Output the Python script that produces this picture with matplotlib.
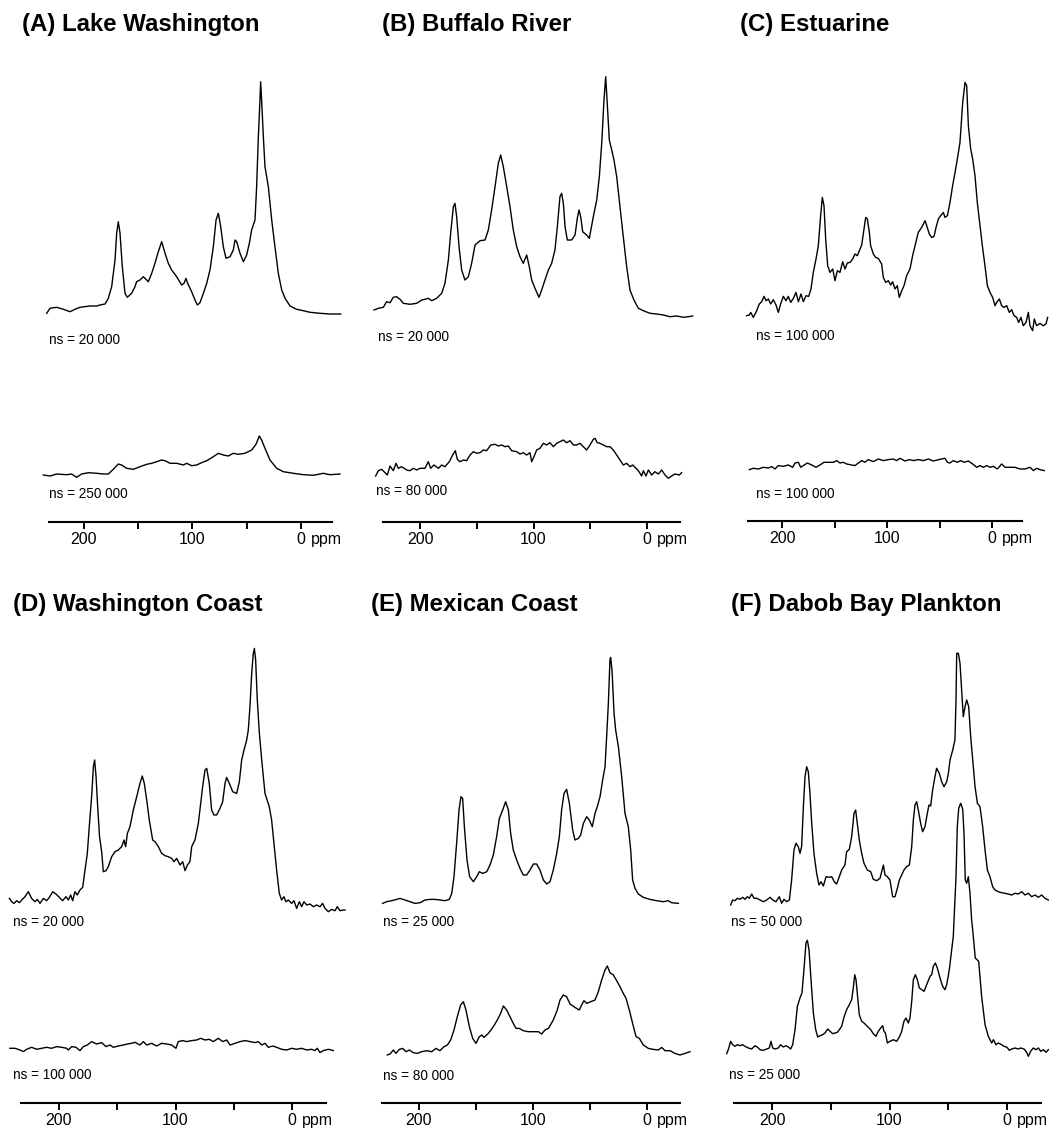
import matplotlib
matplotlib.use("Agg")
import matplotlib.pyplot as plt

plt.rcParams['font.family'] = ['Liberation Sans', 'DejaVu Sans']

W, H = 1057, 1132

# ---------------- data (ppm, intensity) ----------------
A_top_ppm = [234.4, 231.3, 225.2, 219.0, 212.9, 208.3, 203.7, 194.5, 188.3, 185.3, 180.6, 177.6, 174.5, 171.4, 169.9, 168.4, 166.8, 164.7, 162.2, 160.1, 156.1, 153.0, 151.5, 148.4, 145.3, 140.7, 137.6, 134.6, 131.5, 128.4, 125.3, 122.3, 119.2, 114.6, 110.0, 107.8, 106.0, 104.5, 100.8, 97.7, 95.5, 93.1, 90.0, 86.9, 83.9, 80.8, 78.3, 76.2, 74.0, 71.6, 69.1, 65.4, 62.4, 60.8, 59.3, 56.2, 53.1, 50.1, 47.6, 45.5, 42.4, 40.9, 39.3, 37.8, 37.2, 36.3, 34.7, 33.2, 30.1, 27.0, 24.0, 20.9, 17.8, 14.7, 10.1, 4.0, -2.2, -8.3, -17.5, -26.7, -36.6]
A_top_int = [-1.3, 3.7, 4.7, 2.7, 0.3, 2.7, 4.7, 6.0, 6.0, 7.0, 8.0, 13.7, 25.3, 52.0, 78.7, 90.3, 78.7, 45.3, 18.7, 14.7, 18.7, 25.3, 30.3, 32.0, 35.3, 30.3, 38.7, 48.7, 60.3, 70.3, 58.7, 48.7, 42.0, 35.3, 27.0, 28.7, 33.7, 28.7, 20.3, 12.0, 7.0, 9.3, 18.7, 28.7, 42.0, 65.3, 92.0, 98.7, 85.3, 65.3, 53.7, 55.3, 62.0, 72.0, 70.3, 58.7, 50.3, 57.0, 68.7, 82.0, 92.0, 125.3, 175.3, 212.0, 230.3, 212.0, 175.3, 145.3, 125.3, 92.0, 65.3, 38.7, 22.0, 13.7, 6.0, 2.7, 1.3, -0.3, -1.3, -2.0, -2.0]

A_bot_ppm = [237.5, 231.3, 225.2, 216.0, 211.4, 206.8, 202.2, 196.0, 188.3, 182.2, 177.6, 173.0, 168.4, 165.3, 160.7, 154.5, 148.4, 142.2, 137.6, 133.0, 128.4, 125.3, 120.7, 114.6, 108.4, 105.4, 100.8, 96.2, 91.6, 86.9, 80.8, 76.2, 71.6, 67.0, 62.4, 57.8, 51.6, 45.5, 41.5, 38.4, 36.3, 33.2, 28.6, 22.4, 16.3, 7.1, -2.2, -11.4, -20.6, -26.7, -35.9]
A_bot_int = [-1.0, -2.0, 0, -0.7, 0, -3.3, 0, 1.3, 0.7, 0, 0, 4.7, 10, 9, 5.7, 4.7, 7.3, 9.7, 10.7, 12.3, 14, 13.3, 10.7, 10.7, 9, 10.7, 8.3, 9, 11.3, 13.3, 17.3, 20.7, 19, 18, 20.7, 19.7, 20.7, 24, 29.7, 38, 34, 25.7, 14, 5.7, 2.3, 0.7, -0.7, -1.3, 0.7, -0.7, 0]

B_top_ppm = [240.5, 236.7, 232.3, 229.4, 226.4, 223.5, 220.6, 217.6, 214.7, 208.8, 202.9, 198.5, 195.6, 192.7, 189.7, 185.3, 180.9, 178.0, 175.0, 173.0, 170.6, 169.2, 167.7, 165.6, 163.3, 160.4, 157.4, 154.5, 151.5, 147.1, 142.7, 139.8, 136.9, 133.9, 131.0, 128.9, 126.6, 123.6, 120.7, 117.8, 114.8, 111.9, 109.0, 106.0, 103.7, 101.6, 98.7, 95.2, 92.8, 89.9, 86.9, 84.0, 81.1, 79.0, 76.7, 75.2, 73.7, 72.2, 70.2, 66.4, 63.4, 61.4, 59.9, 58.4, 56.7, 53.2, 50.8, 47.3, 44.3, 42.0, 39.9, 37.9, 36.4, 35.2, 33.2, 31.1, 29.1, 26.7, 23.8, 20.9, 17.9, 15.0, 11.5, 7.6, 3.2, -2.6, -8.5, -14.4, -20.3, -26.1, -32.0, -36.4, -40.2]
B_top_int = [0, 1.7, 2.7, 8.3, 7.3, 12.7, 13.3, 10.7, 6.7, 5.7, 6.7, 10, 10.7, 11.7, 9.3, 11.7, 16.7, 26.7, 50, 76.7, 103.3, 106.7, 93.3, 63.3, 40, 30, 33.3, 46.7, 65, 69.3, 70, 80, 100, 123.3, 146.7, 155, 143.3, 123.3, 103.3, 80, 63.3, 53.3, 46.7, 55, 43.3, 30, 21.7, 12.7, 20, 30, 40, 46.7, 60, 83.3, 113.3, 116.7, 106.7, 83.3, 70, 70, 75, 91.7, 100, 93.3, 78.3, 75, 71.7, 93.3, 110, 133.3, 166.7, 210, 233.3, 210, 170, 160, 150, 133.3, 103.3, 73.3, 43.3, 20, 10, 1.7, -0.7, -3.3, -4, -5, -6.7, -6, -7.3, -6.7, -6]

B_bot_ppm = [239.1, 236.7, 233.8, 230.8, 228.8, 226.4, 223.5, 221.1, 219.1, 216.2, 211.7, 208.8, 205.9, 202.9, 200.0, 195.6, 192.7, 190.6, 187.7, 183.8, 180.9, 178.0, 174.2, 171.2, 168.9, 167.1, 164.8, 161.8, 158.9, 155.9, 153.0, 150.1, 147.1, 144.2, 141.3, 137.7, 133.9, 131.0, 128.0, 125.1, 122.2, 119.2, 114.8, 111.9, 109.0, 106.0, 103.1, 101.6, 99.6, 97.2, 94.3, 91.3, 88.4, 85.5, 82.5, 79.6, 76.7, 73.7, 70.8, 67.8, 64.9, 62.0, 59.0, 56.1, 53.2, 50.2, 47.3, 45.8, 43.8, 41.4, 38.5, 35.5, 32.6, 29.7, 26.7, 23.8, 20.9, 17.9, 15.0, 12.6, 9.7, 7.6, 4.7, 3.2, 0.9, -1.2, -4.1, -7.0, -10.0, -12.9, -15.9, -18.8, -21.7, -24.7, -28.5, -30.5]
B_bot_int = [-6, -0.7, 0.7, -2.7, -5, 4, -0.7, 6.7, 1.7, 3.3, 0, -0.7, 1.7, 0, 1.7, 1.7, 8.3, 1.7, 5, 1.7, 5, 3.3, 8.3, 15, 19.3, 10.7, 8.3, 10, 9.3, 15, 18.3, 16.7, 17.3, 20, 19.3, 25, 25.7, 24, 25, 23.3, 24, 19.3, 18.3, 16, 17.3, 15, 17.3, 8.3, 13.3, 20, 21.7, 26.7, 25, 27.3, 23.3, 26.7, 28.3, 30, 27.3, 29.3, 25, 25, 26.7, 23.3, 20, 25, 30.7, 31.7, 27.3, 26.7, 25, 23.3, 23.3, 20, 15, 10, 5, 6.7, 3.3, 5, 1.7, -0.7, -6, -0.7, -6, 0, -5, -1.7, -4, 0, -5, -8.3, -6, -4, -5, -2.7]

C_top_ppm = [233.7, 231.1, 229.8, 227.3, 224.1, 221.6, 219.4, 217.1, 215.2, 213.0, 210.8, 208.3, 205.7, 203.5, 201.3, 198.7, 196.2, 194.0, 191.7, 189.2, 186.7, 184.4, 181.9, 179.7, 177.1, 174.6, 172.4, 170.2, 167.6, 165.4, 163.2, 161.6, 160.0, 158.4, 156.5, 154.3, 151.7, 149.5, 147.3, 144.8, 142.2, 140.0, 137.8, 135.2, 132.7, 130.5, 128.3, 125.7, 124.1, 121.9, 120.3, 118.7, 116.8, 115.6, 113.0, 110.8, 108.3, 105.1, 103.5, 101.3, 98.7, 96.5, 94.6, 92.4, 90.2, 88.3, 86.0, 83.8, 81.3, 78.1, 75.6, 73.3, 70.2, 67.0, 63.8, 62.2, 59.7, 57.5, 55.2, 53.3, 51.1, 48.9, 46.3, 44.8, 42.5, 40.0, 37.5, 35.2, 33.0, 30.5, 27.9, 25.7, 24.1, 22.5, 20.3, 18.4, 16.2, 14.0, 11.4, 9.2, 6.7, 4.4, 1.9, -0.6, -2.9, -4.4, -7.0, -9.2, -11.4, -14.0, -16.5, -18.7, -21.0, -23.5, -25.4, -27.6, -29.8, -32.4, -34.6, -36.2, -38.7, -40.3, -42.5, -45.7, -48.9, -51.4, -53.0]
C_top_int = [0, 0.7, 3.3, -1.7, 5, 11.7, 14, 19.3, 15, 16.7, 11.7, 16, 10.7, 3.3, 11.7, 19.3, 15, 19.3, 13.3, 17.3, 23.3, 14, 21.7, 14, 20, 19.3, 26.7, 43.3, 56.7, 70, 100, 118.3, 110, 76.7, 50, 43.3, 46.7, 35, 45, 43.3, 54, 46.7, 52.7, 53.3, 56.7, 61.7, 60, 66.7, 70.7, 86.7, 98.3, 96.7, 83.3, 70, 61.7, 58.3, 57.3, 51.7, 38.3, 33.3, 35, 30.7, 34, 26.7, 30, 18.3, 25, 30, 40, 46.7, 60, 70, 83.3, 88.3, 95, 90, 81.7, 78.3, 79.3, 88.3, 96.7, 100, 103.3, 98.3, 100, 113.3, 130, 143.3, 156.7, 173.3, 213.3, 233.3, 230, 190, 166.7, 156.7, 140, 113.3, 90, 70, 50, 30, 23.3, 18.3, 10, 13.3, 16.7, 10, 8.3, 10, 3.3, 6, 0, -1.7, -6.7, -1.7, -10, -6.7, 3.3, -10, -15, -3.3, -10, -7.7, -10, -8.3, -1.7]

C_bot_ppm = [231.1, 227.3, 222.5, 217.8, 213.0, 209.8, 206.7, 203.5, 198.7, 194.0, 189.8, 187.6, 184.4, 182.2, 179.7, 175.9, 171.7, 167.6, 163.8, 160.0, 155.9, 151.1, 147.9, 144.8, 141.6, 138.4, 133.7, 130.5, 127.3, 124.1, 121.0, 117.8, 113.0, 108.3, 103.5, 98.7, 94.0, 90.8, 87.6, 82.9, 78.7, 74.9, 70.2, 65.4, 60.6, 55.9, 52.1, 48.0, 44.8, 42.5, 40.0, 36.8, 33.0, 29.8, 26.7, 22.5, 18.4, 14.6, 11.4, 8.3, 5.1, 1.9, -1.3, -5.1, -9.2, -12.4, -17.1, -21.9, -26.7, -31.4, -36.2, -39.4, -42.5, -45.7, -49.8]
C_bot_int = [-2.3, -1, -1.7, 0, -0.7, 0.7, -1.7, 1.7, 1, 2.3, 0, 4.3, 5, 0, 1.7, 4.3, 2.3, 0, 2.3, 5, 5, 5, 6.7, 4.3, 5, 3.3, 2.3, 1.7, 4.3, 6.7, 5, 7.7, 5.7, 8.3, 6.7, 7.7, 8.3, 6.7, 9, 6.3, 7.7, 6.7, 7.7, 6.7, 8.3, 6.3, 7.3, 8.3, 9, 5, 4.3, 6.7, 5, 6.7, 5, 6.3, 3.3, 0, 1.7, 0, 1.7, 0, 1, -1.7, 3.3, 0, 0, 0, -1.7, -1.7, 0, -3.3, -1, -2.3, -3.3]

D_top_ppm = [242.6, 240.6, 238.6, 236.3, 234.0, 232.0, 229.2, 226.3, 223.5, 220.6, 218.6, 216.3, 213.4, 210.6, 208.3, 205.4, 202.6, 199.7, 196.9, 194.0, 192.0, 190.0, 188.3, 186.3, 184.3, 182.0, 179.7, 177.7, 175.7, 173.8, 171.8, 170.5, 169.4, 168.2, 166.8, 165.2, 163.2, 162.0, 159.7, 157.7, 154.8, 151.9, 149.1, 146.2, 144.2, 142.8, 141.3, 139.1, 136.2, 133.3, 130.5, 128.5, 126.8, 124.7, 122.5, 119.6, 117.6, 114.7, 111.9, 109.0, 106.2, 103.3, 101.3, 99.0, 96.1, 93.8, 91.8, 89.8, 87.6, 86.1, 83.3, 80.4, 78.4, 76.7, 74.7, 73.2, 71.0, 69.0, 67.0, 64.7, 61.8, 59.5, 57.5, 56.1, 53.8, 50.9, 47.5, 45.2, 43.2, 41.2, 38.9, 37.5, 36.1, 34.6, 33.2, 32.3, 31.2, 29.8, 28.0, 26.0, 23.2, 19.5, 17.5, 15.5, 13.2, 10.9, 8.9, 6.9, 5.2, 3.1, 0.3, -1.7, -4.0, -6.3, -8.3, -10.3, -12.6, -15.5, -18.3, -21.2, -24.0, -26.3, -28.3, -31.2, -34.0, -36.9, -38.9, -41.2, -44.1, -45.5]
D_top_int = [3.3, 0, -1.7, 1, -1, 1.7, 5, 10, 3.3, 0, 2.3, -1.7, 3.3, 1, 4.3, 10, 7.7, 4.3, 1, 5, 1.7, 6.7, 1, 10, 6.7, 11.7, 14.3, 31.7, 48.3, 78.3, 108.3, 135, 141.7, 125, 95, 65, 48.3, 30, 31, 35, 45, 50, 51.7, 55, 61.7, 55, 68.3, 75, 91.7, 105, 118.3, 125.7, 118.3, 101.7, 81.7, 61.7, 60, 55, 48.3, 46, 45, 43.3, 40, 43.3, 36.7, 40, 31, 36.7, 40, 55, 61.7, 78.3, 98.3, 115, 131.7, 133.3, 118.3, 91.7, 86.7, 86.7, 93.3, 100, 118.3, 124.3, 118.3, 110, 108.3, 120, 141.7, 151.7, 161.7, 171.7, 195, 228.3, 248.3, 253.3, 241.7, 201.7, 168.3, 141.7, 108.3, 95, 81.7, 58.3, 31.7, 8.3, 1.7, 5, 0, 1.7, -1.7, 1, -6.7, 0, -5, 0, -3.3, -2.3, -5, -3.3, -5, -1.7, -6.7, -10, -7.7, -9, -5, -9, -8.3, -8.3]

D_bot_ppm = [242.1, 237.8, 233.5, 230.6, 227.8, 223.5, 219.2, 214.9, 210.6, 206.3, 202.0, 197.7, 193.4, 192.0, 189.1, 185.4, 182.0, 179.1, 175.7, 172.0, 167.7, 163.4, 159.7, 156.2, 153.4, 149.1, 144.8, 141.3, 137.6, 134.8, 130.5, 127.6, 124.7, 120.5, 116.2, 111.9, 107.6, 103.3, 99.6, 97.6, 93.8, 90.4, 86.1, 81.8, 78.4, 74.7, 71.0, 67.5, 63.2, 59.5, 56.1, 53.2, 48.9, 44.6, 40.3, 36.1, 31.8, 28.9, 26.0, 23.2, 20.3, 16.6, 13.2, 8.9, 4.6, 0.3, -4.0, -8.3, -12.6, -16.9, -19.7, -21.7, -24.0, -26.9, -31.2, -35.5]
D_bot_int = [0, 0, -1.7, -3.3, -1, 1, -1, 0, 1, 0, 1.7, 1, 0, -1.7, 1.7, 1, -2.3, 1.7, 3.3, 6.7, 4.3, 5.7, 1.7, 3.3, 1, 2.3, 3.3, 4.3, 5, 6, 3.3, 6.7, 3.3, 5, 2.3, 5, 4.3, 3.3, 0, 6.7, 7.7, 6.7, 7.7, 8.3, 10, 8.3, 9, 6.7, 10, 6.7, 8.3, 3.3, 5, 6.7, 7.7, 6.7, 5.7, 6.7, 3.3, 5, 1, 2.3, 1, -1, -1.7, 0, -1, 0, -1.7, -1, -2.3, 0, -4.3, -2.3, -1, -2.3]

E_top_ppm = [231.9, 228.4, 224.0, 219.6, 216.7, 212.3, 207.9, 203.5, 199.1, 194.7, 190.4, 186.0, 181.6, 177.2, 173.4, 171.3, 169.3, 167.0, 164.9, 163.2, 161.7, 160.2, 157.9, 155.6, 152.3, 149.4, 147.1, 144.2, 140.6, 137.7, 134.8, 131.9, 129.5, 126.6, 124.0, 121.6, 119.6, 117.3, 114.3, 111.4, 108.5, 105.6, 102.6, 99.7, 96.8, 93.9, 90.9, 88.0, 85.1, 82.2, 79.2, 76.9, 74.9, 72.8, 70.5, 68.1, 65.2, 63.2, 60.2, 58.2, 55.8, 52.9, 50.6, 48.0, 45.6, 43.6, 41.2, 38.9, 36.8, 35.4, 33.9, 32.5, 31.9, 30.7, 28.9, 27.5, 25.1, 22.2, 19.3, 16.4, 14.3, 12.6, 10.5, 7.6, 3.2, -2.6, -8.5, -14.3, -18.7, -21.6, -27.5]
E_top_int = [-1.7, 0, 1, 2.3, 3.3, 1.7, 0, -1.7, -1, 1.7, 2.3, 2.3, 1.7, 1, 2.3, 8.3, 25, 58.3, 91.7, 105, 103.3, 75, 41.7, 25, 20, 25, 30, 28.3, 30, 36.7, 46.7, 65, 83.3, 91.7, 100, 91.7, 68.3, 51.7, 41.7, 33.3, 26.7, 26.7, 31.7, 37.7, 37.7, 31.7, 21.7, 17.7, 20, 31.7, 48.3, 65, 91.7, 108.3, 112.3, 98.3, 71.7, 61.7, 63.3, 66.7, 78.3, 85, 81.7, 75, 88.3, 95, 105, 121.7, 135, 165, 198.3, 241.7, 244.3, 231.7, 188.3, 171.7, 155, 125, 88.3, 75, 51.7, 21.7, 13.3, 7.7, 4.3, 2.3, 1, 0, 1, -1, -1.7]

E_bot_ppm = [227.8, 225.4, 222.5, 220.2, 217.3, 214.3, 211.4, 208.5, 205.0, 201.5, 197.7, 193.3, 188.9, 185.1, 181.6, 178.1, 175.1, 172.2, 169.3, 166.4, 163.5, 161.1, 158.8, 155.8, 152.9, 150.0, 147.1, 145.0, 143.0, 139.2, 134.8, 131.3, 128.4, 126.0, 123.1, 120.2, 117.3, 114.9, 112.0, 108.5, 104.1, 99.7, 95.3, 92.4, 89.5, 86.5, 82.2, 78.7, 76.3, 73.4, 70.5, 67.5, 63.2, 59.4, 57.3, 55.3, 52.9, 49.4, 45.6, 42.7, 39.8, 36.8, 34.8, 32.5, 29.5, 26.6, 23.7, 20.8, 18.4, 15.5, 12.6, 9.6, 6.7, 3.2, -1.2, -5.6, -9.9, -12.9, -15.8, -20.2, -24.6, -28.9, -33.3, -37.7]
E_bot_int = [-3.3, -2.3, 1.7, -1.7, 2.3, 3.3, 0, 1.7, -1, -1.7, 0, 1, 0, 3.3, 1, 5, 6.7, 11.7, 21.7, 35, 46.7, 50, 41.7, 25, 13.3, 8.3, 15, 16.7, 14.3, 18.3, 25, 31.7, 38.3, 45.7, 41.7, 35, 28.3, 23.3, 23.3, 21, 20, 20, 20, 17.7, 21.7, 23.3, 31.7, 41.7, 51.7, 56.7, 55, 47.7, 44.3, 41.7, 46.7, 51, 48.3, 50, 51.7, 60, 71.7, 81.7, 85.7, 79, 76.7, 71, 65, 58.3, 53.3, 41.7, 28.3, 15, 13.3, 6.7, 3.3, 2.3, 1.7, 4.3, 1, 1, -1.7, -3.3, -1.7, 0]

F_top_ppm = [235.2, 233.5, 231.5, 229.5, 227.2, 225.0, 223.0, 221.0, 219.3, 217.3, 215.3, 213.0, 210.2, 207.4, 204.5, 201.7, 199.4, 196.6, 193.8, 191.8, 189.8, 187.5, 185.2, 183.3, 181.3, 179.6, 177.6, 176.2, 174.8, 173.3, 171.9, 170.5, 169.1, 167.7, 166.2, 164.3, 162.0, 160.0, 158.3, 156.3, 154.0, 151.2, 149.2, 147.0, 145.0, 142.7, 140.7, 137.9, 136.5, 134.2, 132.2, 130.2, 128.8, 127.4, 125.7, 123.7, 121.7, 118.9, 116.0, 113.8, 110.9, 108.1, 106.7, 105.2, 103.8, 101.8, 99.6, 97.3, 95.3, 93.3, 91.6, 89.6, 87.7, 85.4, 83.1, 81.1, 79.7, 78.3, 76.9, 75.5, 73.5, 71.8, 69.8, 67.8, 66.4, 65.0, 63.3, 61.3, 59.9, 57.6, 55.6, 53.6, 51.3, 49.9, 48.5, 46.2, 44.3, 43.4, 42.8, 41.4, 40.0, 38.6, 37.2, 35.7, 34.3, 32.6, 30.9, 29.2, 27.2, 25.2, 23.0, 20.7, 18.7, 16.7, 14.5, 12.2, 10.2, 7.4, 4.5, 1.7, -1.1, -4.0, -6.8, -9.6, -12.5, -15.3, -18.2, -21.0, -23.8, -26.7, -29.5, -32.3, -35.2]
F_top_int = [-5, 0, -0.7, 1.7, 0.7, 2.7, 0.7, 3.3, 1.7, 6, 1.7, 1.7, 0, -1.7, 0, 2.7, 0, -1.7, 3.3, -3.3, 0.7, -1.7, 0, 20, 50, 56.7, 53.3, 46.7, 53.3, 93.3, 123.3, 133.3, 128.3, 106.7, 76.7, 46.7, 26.7, 15, 18.3, 14, 23.3, 22.7, 23.3, 18.3, 16, 23.3, 30, 35, 48.3, 50.7, 63.3, 86.7, 90, 76.7, 60, 46.7, 36.7, 30, 28.3, 20.7, 19.3, 21.7, 28.3, 35, 25, 23.3, 20, 3.3, 3.3, 11.7, 20, 25, 30, 33.3, 35, 53.3, 80, 95, 98.3, 90, 76.7, 68.3, 73.3, 86.7, 95, 94, 110, 123.3, 131.7, 126.7, 118.3, 113.3, 118.3, 126.7, 140, 150, 160, 200, 246.7, 246.7, 236.7, 210, 183.3, 193.3, 200, 193.3, 163.3, 140, 113.3, 96.7, 93.3, 73.3, 50, 30, 23.3, 13.3, 10, 8.3, 7.3, 6.7, 6, 5, 6.7, 6, 8.3, 5, 6.7, 3.3, 5, 2.7, 5, 1.7, 0]

F_bot_ppm = [238.6, 237.2, 235.2, 233.5, 231.5, 229.5, 227.2, 225.0, 223.0, 220.1, 217.3, 214.5, 212.5, 210.2, 207.4, 204.5, 202.3, 200.9, 199.4, 197.4, 194.6, 192.6, 190.4, 188.1, 186.1, 184.1, 182.4, 180.4, 178.4, 176.2, 174.5, 172.8, 171.1, 169.9, 168.5, 166.8, 164.8, 162.8, 161.1, 159.1, 156.9, 154.9, 152.6, 150.6, 148.4, 146.4, 144.4, 142.7, 140.7, 138.7, 136.5, 134.2, 132.2, 130.8, 129.6, 128.5, 127.4, 125.7, 123.7, 121.7, 118.9, 116.0, 113.8, 111.5, 109.5, 107.5, 105.8, 104.7, 103.5, 101.8, 99.6, 96.7, 93.9, 91.6, 89.6, 87.7, 86.0, 84.0, 82.6, 81.1, 79.7, 78.0, 76.3, 74.6, 72.6, 70.6, 68.4, 65.5, 64.1, 62.7, 61.0, 59.3, 57.0, 54.8, 52.8, 51.3, 49.1, 47.1, 45.7, 43.4, 42.3, 41.1, 39.4, 37.7, 36.6, 35.5, 34.3, 32.9, 31.5, 30.1, 29.2, 27.0, 24.1, 21.6, 18.7, 15.9, 13.0, 11.6, 9.4, 7.4, 4.5, 2.6, 0.3, -2.0, -4.0, -6.8, -9.6, -11.6, -14.5, -16.7, -18.2, -20.1, -22.4, -24.7, -26.7, -28.7, -30.9, -33.2, -35.2]
F_bot_int = [-5.7, -1.7, 6.7, 3.3, 1.7, 3.3, 2.3, 3.3, 1.7, 0, -1, 2.3, 1, -1.7, -2.3, -1, 0, 6.7, 0, -1, 0, 3.3, 1, 2.3, 1, -1, 3.3, 18.3, 41.7, 50, 55, 78.3, 105, 107.7, 98.3, 68.3, 35, 18.3, 11, 12.3, 13.3, 15, 19, 16.7, 14.3, 15, 15.7, 18.3, 21.7, 31, 38.3, 43.3, 48.3, 60, 73.3, 68.3, 55, 33.3, 26.7, 25, 21.7, 18.3, 14.3, 11.7, 16.7, 20, 22.3, 16.7, 15, 5, 6.7, 8.3, 6.7, 11, 16.7, 26.7, 30, 25, 30, 46.7, 68.3, 73.3, 68.3, 60, 58.3, 56.7, 63.3, 71.7, 73.3, 81.7, 85, 80, 70, 61.7, 58.3, 63.3, 78.3, 98.3, 111.7, 171.3, 221.3, 239.7, 244.7, 238.7, 214.7, 168, 164.7, 171.3, 154.7, 128, 118.3, 90, 86.7, 51.7, 23.3, 11.7, 5, 8.3, 3.3, 5, 3.3, 1.7, 1, -2.3, -1, 0, -1, 0, -1, -4.3, -8.3, -3.3, 0, -1.7, 0, -3.3, -1.7, -4.3, -1.7]

titles = ["(A) Lake Washington", "(B) Buffalo River", "(C) Estuarine",
          "(D) Washington Coast", "(E) Mexican Coast", "(F) Dabob Bay Plankton"]
ns_top = ["ns = 20 000", "ns = 20 000", "ns = 100 000", "ns = 20 000", "ns = 25 000", "ns = 50 000"]
ns_bot = ["ns = 250 000", "ns = 80 000", "ns = 100 000", "ns = 100 000", "ns = 80 000", "ns = 25 000"]
tick_vals = [200, 150, 100, 50, 0]
tick_labels = ["200", "", "100", "", "0"]

spectra = [
    (A_top_ppm, A_top_int, A_bot_ppm, A_bot_int),
    (B_top_ppm, B_top_int, B_bot_ppm, B_bot_int),
    (C_top_ppm, C_top_int, C_bot_ppm, C_bot_int),
    (D_top_ppm, D_top_int, D_bot_ppm, D_bot_int),
    (E_top_ppm, E_top_int, E_bot_ppm, E_bot_int),
    (F_top_ppm, F_top_int, F_bot_ppm, F_bot_int),
]

# ---------------- layout (pixels) ----------------
# x position of 0 ppm, px per ppm, axis line y
geom = [(301, 1.085, 522), (647, 1.135, 522), (992, 1.05, 521),
        (292, 1.165, 1103), (647, 1.14, 1103), (1007, 1.175, 1103)]
offsets = [(210, 48), (212, 52), (205.3, 53.7), (201.3, 54.7), (201.3, 51.3), (203, 55)]
title_pos = [(22, 25), (382, 25), (740, 25), (13, 604), (371, 604), (731, 604)]
ns_top_pos = [(49, 340), (378, 337), (756, 336), (13, 922), (383, 922), (731, 922)]
ns_bot_pos = [(49, 494), (376, 491), (756, 494), (13, 1075), (383, 1076), (729, 1075)]

fig = plt.figure(figsize=(W / 100, H / 100), dpi=100)

XL, XR = 250, -60
YLO, YHI = -25, 480
for i in range(6):
    x0, s, ay = geom[i]
    left = x0 - s * XL
    width = s * (XL - XR)
    bottom = ay - YLO
    ax = fig.add_axes([left / W, 1 - bottom / H, width / W, (YHI - YLO) / H])
    ax.patch.set_visible(False)
    ax.set_xlim(XL, XR)
    ax.set_ylim(YLO, YHI)
    for sp in ("top", "left", "right"):
        ax.spines[sp].set_visible(False)
    ax.spines["bottom"].set_position(("data", 0))
    ax.spines["bottom"].set_bounds(232.5, -29)
    ax.spines["bottom"].set_linewidth(1.5)
    ax.set_yticks([])
    ax.set_xticks(tick_vals)
    ax.set_xticklabels(tick_labels)
    ax.tick_params(axis="x", direction="out", length=5, width=1.4, pad=2.5,
                   labelsize=11.5)
    ax.annotate("ppm", xy=(0, 0), xycoords="data", xytext=(7.5, -7.5),
                textcoords="offset points", ha="left", va="top", fontsize=11.5)
    tp, ti, bp, bi = spectra[i]
    ot, ob = offsets[i]
    ax.plot(tp, [ot + v for v in ti], color="black", lw=1.0, clip_on=False)
    ax.plot(bp, [ob + v for v in bi], color="black", lw=1.0, clip_on=False)

    tx, ty = title_pos[i]
    fig.text(tx / W, 1 - ty / H, titles[i], ha="left", va="center",
             fontsize=17.3, fontweight="bold")
    nx, ny = ns_top_pos[i]
    fig.text(nx / W, 1 - ny / H, ns_top[i], ha="left", va="center", fontsize=9.8)
    nx, ny = ns_bot_pos[i]
    fig.text(nx / W, 1 - ny / H, ns_bot[i], ha="left", va="center", fontsize=9.8)

fig.savefig("out.png", dpi=100)
